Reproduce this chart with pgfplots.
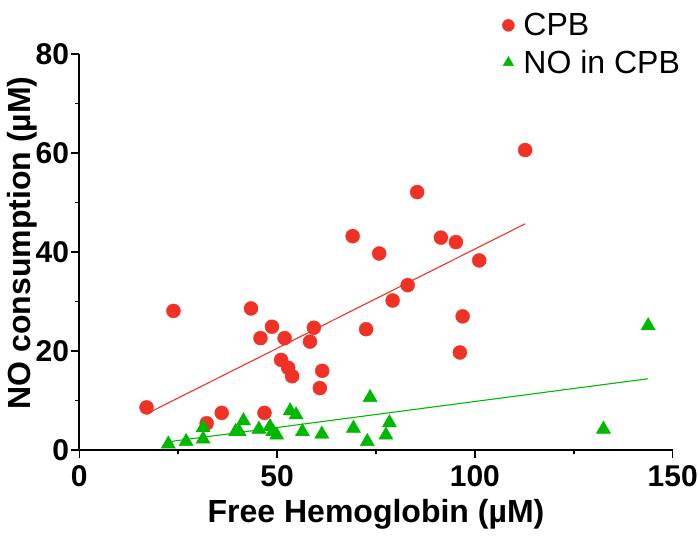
\documentclass[border=0pt]{standalone}
\usepackage{pgfplots}
\pgfplotsset{compat=1.18}
\usepackage{fontspec}
\setmainfont{Liberation Sans}
\definecolor{cpbred}{RGB}{240,50,38}
\definecolor{nogreen}{RGB}{0,184,0}
\begin{document}
\begin{tikzpicture}
\useasboundingbox (-79.3pt,-98pt) rectangle (618.7pt,450pt);
\begin{axis}[
  at={(0,0)}, anchor=south west,
  scale only axis, width=593.4pt, height=396pt,
  xmin=0, xmax=150, ymin=0, ymax=80,
  axis x line*=bottom, axis y line*=left,
  axis line style={-, line width=1.6pt, black},
  xtick={0,50,100,150}, ytick={0,20,40,60,80},
  minor x tick num=1, minor y tick num=1,
  tick align=outside,
  major tick length=8pt, minor tick length=4.5pt,
  every tick/.style={black, line width=1.5pt},
  /pgf/number format/assume math mode=true,
  ticklabel style={font=\fontsize{30}{32}\selectfont\bfseries},
  xticklabel style={inner sep=2pt, yshift=-5pt},
  yticklabel style={inner sep=2pt},
  xlabel={Free Hemoglobin (µM)},
  ylabel={NO consumption (µM)},
  every axis x label/.style={at={(axis description cs:0.5,-0.162)}, anchor=center, font=\fontsize{32}{34}\selectfont\bfseries},
  every axis y label/.style={at={(axis description cs:-0.097,0.523)}, anchor=center, rotate=90, font=\fontsize{32}{34}\selectfont\bfseries},
  legend style={at={(axis description cs:0.711,1.108)}, anchor=north west, draw=none, fill=none,
    font=\fontsize{32}{34}\selectfont, inner sep=0pt, row sep=9pt,
    legend image code/.code={\path[draw=none,fill=none] (0pt,-0.1pt) rectangle (20pt,0.1pt); \draw[#1, mark size=6pt] plot coordinates {(7pt,0pt)};}},
  legend cell align=left,
  clip=false,
]
\addplot[only marks, mark=*, mark size=7pt, color=cpbred, mark options={draw=cpbred, fill=cpbred}] coordinates {
(17.0,8.6) (23.8,28.1) (32.2,5.4) (36.0,7.5) (43.4,28.6) (45.8,22.6) (46.8,7.5)
(48.7,24.9) (51.9,22.6) (51.0,18.2) (52.8,16.6) (53.8,14.9) (59.3,24.7) (58.3,21.9)
(61.4,16.0) (60.8,12.5) (69.1,43.2) (75.8,39.7) (72.5,24.4) (79.2,30.2) (83.0,33.3)
(85.4,52.1) (91.4,42.9) (95.2,42.0) (101.1,38.3) (96.9,27.0) (96.2,19.7) (112.7,60.6)
};
\addlegendentry{CPB}
\addplot[only marks, mark=triangle*, mark size=8.2pt, color=nogreen, mark options={draw=nogreen, fill=nogreen}] coordinates {
(22.5,1.2) (27.0,1.7) (31.3,2.2) (31.3,4.5) (39.5,3.7) (40.4,3.7) (41.5,5.9)
(45.4,4.2) (48.2,4.7) (48.9,3.7) (49.9,3.0) (53.3,7.9) (54.8,7.1) (56.4,3.7)
(61.3,3.2) (69.3,4.4) (73.5,10.6) (72.8,1.7) (78.4,5.5) (77.5,3.0) (143.8,25.1) (132.5,4.2)
};
\addlegendentry{NO in CPB}
\addplot[cpbred, line width=1.1pt, forget plot] coordinates {(17.0,7.3) (112.7,45.7)};
\addplot[nogreen, line width=1.1pt, forget plot] coordinates {(22.9,1.7) (143.8,14.4)};
\end{axis}
\end{tikzpicture}
\end{document}
